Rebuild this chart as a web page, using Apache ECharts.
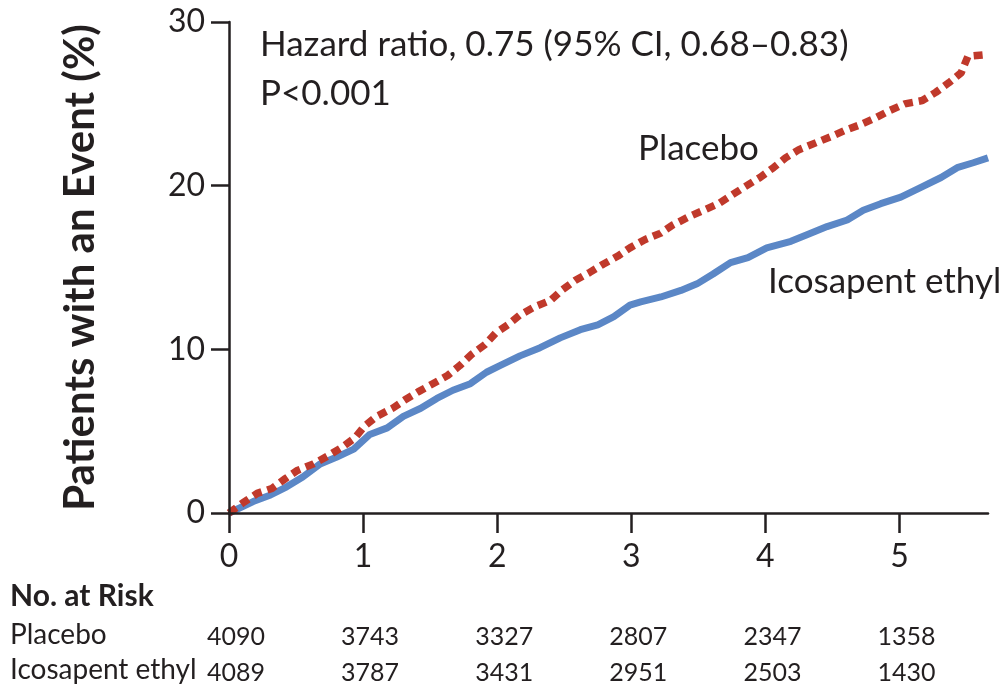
<!DOCTYPE html>
<html>
<head>
<meta charset="utf-8">
<script src="https://cdn.jsdelivr.net/npm/echarts@6/dist/echarts.min.js"></script>
<style>
  html, body { margin: 0; padding: 0; background: #fff; }
  #chart { width: 1000px; height: 697px; }
</style>
</head>
<body>
<div id="chart"></div>
<script>
// years of follow-up / cumulative incidence (%)
const placeboYears = [0, 0.1, 0.21, 0.32, 0.42, 0.51, 0.63, 0.74, 0.84, 0.94, 1.01, 1.1, 1.22, 1.31, 1.41, 1.52, 1.63, 1.72, 1.81, 1.91, 1.99, 2.08, 2.17, 2.28, 2.4, 2.48, 2.58, 2.69, 2.79, 2.9, 2.99, 3.1, 3.22, 3.31, 3.43, 3.54, 3.65, 3.84, 3.96, 4.06, 4.15, 4.25, 4.37, 4.49, 4.6, 4.7, 4.81, 4.93, 5.04, 5.17, 5.27, 5.37, 5.46, 5.51, 5.64, 5.66];
const placeboPct = [0, 0.6, 1.2, 1.5, 2.1, 2.6, 3.0, 3.5, 4.0, 4.6, 5.3, 5.9, 6.4, 6.9, 7.4, 7.9, 8.4, 9.0, 9.7, 10.3, 11.0, 11.5, 12.1, 12.6, 13.0, 13.6, 14.2, 14.7, 15.2, 15.7, 16.2, 16.7, 17.1, 17.6, 18.1, 18.5, 18.9, 19.9, 20.5, 21.1, 21.7, 22.2, 22.6, 23.0, 23.4, 23.7, 24.1, 24.6, 25.0, 25.2, 25.7, 26.3, 26.9, 27.9, 28.0, 28.1];

const icosaYears = [0, 0.18, 0.31, 0.43, 0.55, 0.68, 0.8, 0.93, 1.05, 1.18, 1.3, 1.43, 1.55, 1.67, 1.8, 1.92, 2.02, 2.17, 2.32, 2.47, 2.62, 2.75, 2.87, 2.99, 3.07, 3.22, 3.37, 3.49, 3.61, 3.74, 3.87, 4.01, 4.19, 4.31, 4.46, 4.61, 4.73, 4.86, 5.01, 5.16, 5.31, 5.43, 5.55, 5.66];
const icosaPct = [0, 0.7, 1.1, 1.6, 2.2, 3.0, 3.4, 3.9, 4.8, 5.2, 5.9, 6.4, 7.0, 7.5, 7.9, 8.6, 9.0, 9.6, 10.1, 10.7, 11.2, 11.5, 12.0, 12.7, 12.9, 13.2, 13.6, 14.0, 14.6, 15.3, 15.6, 16.2, 16.6, 17.0, 17.5, 17.9, 18.5, 18.9, 19.3, 19.9, 20.5, 21.1, 21.4, 21.7];

const yearTicks = [0, 1, 2, 3, 4, 5];
const riskPlacebo = [4090, 3743, 3327, 2807, 2347, 1358];
const riskIcosa = [4089, 3787, 3431, 2951, 2503, 1430];

const ink = "#231f20";
const font = "Lato, 'Open Sans', sans-serif";

function pairs(xs, ys) {
  return xs.map((x, i) => [x, ys[i]]);
}

// extra x axes just to print the numbers at risk under each year tick
function riskAxis(values, margin) {
  return {
    type: "value",
    min: 0,
    max: 5.66,
    position: "bottom",
    axisLine: { show: false },
    axisTick: { show: false },
    splitLine: { show: false },
    axisLabel: {
      customValues: yearTicks,
      margin: margin,
      verticalAlign: "middle",
      padding: [0, 0, 0, 14],
      fontFamily: font,
      fontSize: 25,
      color: ink,
      formatter: (v) => values[Math.round(v)]
    }
  };
}

let chart = echarts.init(document.getElementById("chart"));

let option = {
  animation: false,
  backgroundColor: "#fff",
  grid: {
    left: 229,
    right: 12,
    top: 22,
    bottom: 184,
    containLabel: false
  },
  xAxis: [
    {
      type: "value",
      min: 0,
      max: 5.66,
      z: 10,
      axisLine: { show: true, onZero: false, lineStyle: { color: ink, width: 2.5 } },
      axisTick: {
        show: true,
        customValues: yearTicks,
        length: 20,
        lineStyle: { color: ink, width: 2.5 }
      },
      axisLabel: {
        customValues: yearTicks,
        margin: 28,
        fontFamily: font,
        fontSize: 32,
        color: ink
      },
      splitLine: { show: false }
    },
    riskAxis(riskPlacebo, 124),
    riskAxis(riskIcosa, 160)
  ],
  yAxis: {
    type: "value",
    min: 0,
    max: 30,
    interval: 10,
    z: 10,
    name: "Patients with an Event (%)",
    nameLocation: "middle",
    nameRotate: 90,
    nameGap: 128,
    nameMoveOverlap: false,
    nameTextStyle: {
      fontFamily: font,
      fontWeight: "bold",
      fontSize: 42,
      color: ink
    },
    axisLine: { show: true, onZero: false, lineStyle: { color: ink, width: 2.5 } },
    axisTick: { show: true, length: 18, lineStyle: { color: ink, width: 2.5 } },
    axisLabel: {
      margin: 24,
      fontFamily: font,
      fontSize: 32,
      color: ink
    },
    splitLine: { show: false }
  },
  series: [
    {
      name: "Placebo",
      type: "line",
      data: pairs(placeboYears, placeboPct),
      showSymbol: false,
      z: 3,
      lineStyle: { color: "#c0392b", width: 7.5, type: [9, 6], cap: "butt" }
    },
    {
      name: "Icosapent ethyl",
      type: "line",
      data: pairs(icosaYears, icosaPct),
      showSymbol: false,
      z: 2,
      lineStyle: { color: "#5b87c6", width: 7 }
    }
  ],
  graphic: [
    { type: "text", left: 260, top: 27, style: { text: "Hazard ratio, 0.75 (95% CI, 0.68\u20130.83)", font: "35px " + font, fill: ink } },
    { type: "text", left: 260, top: 76, style: { text: "P<0.001", font: "35px " + font, fill: ink } },
    { type: "text", left: 638, top: 131, style: { text: "Placebo", font: "35px " + font, fill: ink } },
    { type: "text", left: 768, top: 264, style: { text: "Icosapent ethyl", font: "35px " + font, fill: ink } },
    { type: "text", left: 10, top: 581, style: { text: "No. at Risk", font: "bold 30px " + font, fill: ink } },
    { type: "text", left: 10, top: 621, style: { text: "Placebo", font: "28px " + font, fill: ink } },
    { type: "text", left: 10, top: 656, style: { text: "Icosapent ethyl", font: "28px " + font, fill: ink } }
  ]
};

chart.setOption(option);
</script>
</body>
</html>
